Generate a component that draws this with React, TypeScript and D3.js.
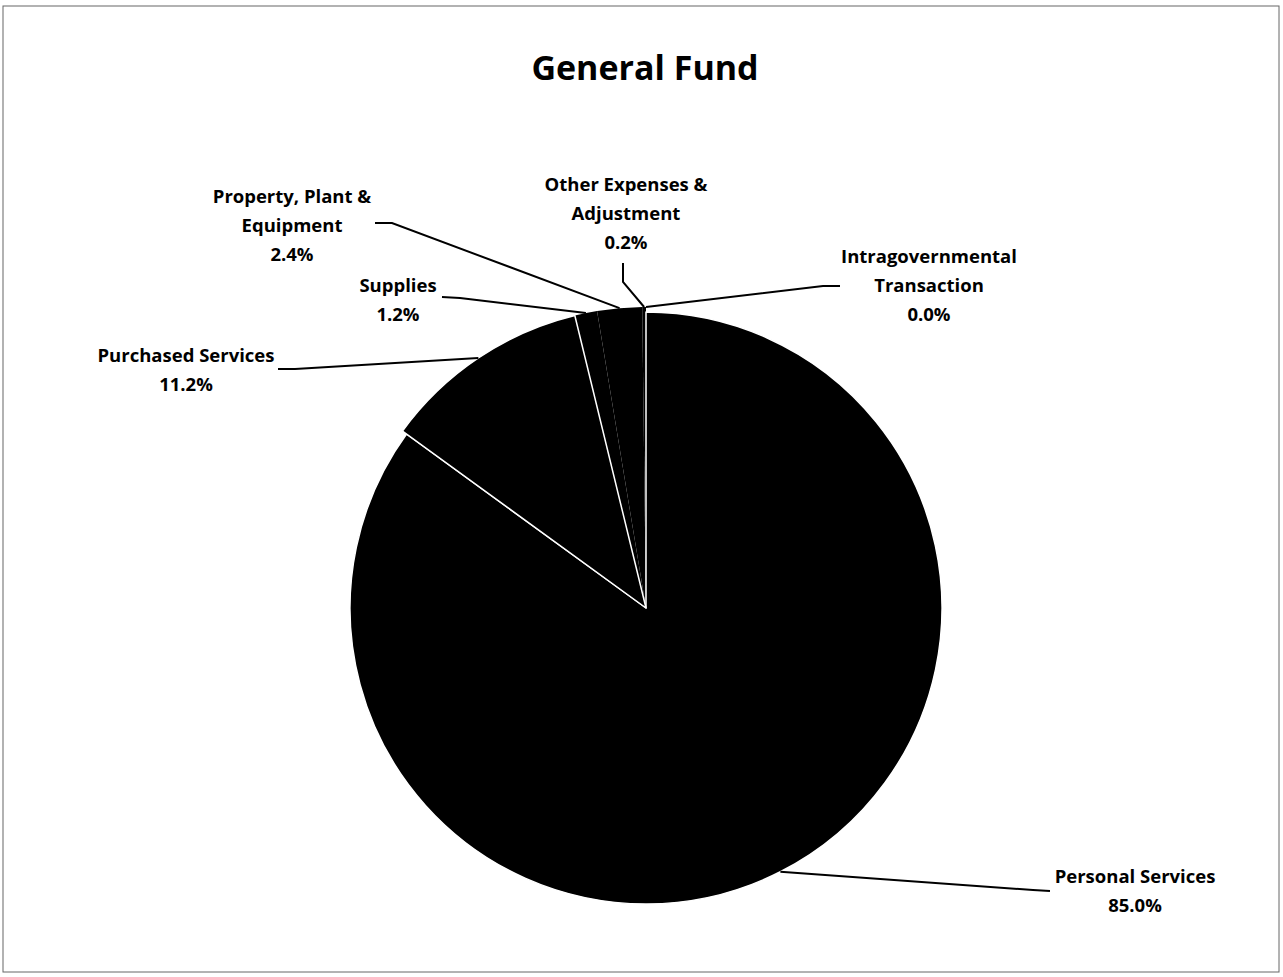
import React from "react"
import * as d3 from "d3"

const title = "General Fund"
const categories = [
  "Personal Services",
  "Purchased Services",
  "Supplies",
  "Property, Plant & Equipment",
  "Other Expenses & Adjustment",
  "Intragovernmental Transaction",
]
const values = [85.0, 11.2, 1.2, 2.4, 0.2, 0.0]
const labelLines = [
  ["Personal Services"],
  ["Purchased Services"],
  ["Supplies"],
  ["Property, Plant &", "Equipment"],
  ["Other Expenses &", "Adjustment"],
  ["Intragovernmental", "Transaction"],
]
// only these slices get a white outline in the original
const outlined = [true, true, false, false, false, false]

// where each data label sits and where its leader leaves it
const labelLayout = [
  { x: 1135, y: 883, sx: 1050, sy: 891, ex: 1033, ey: 890 },
  { x: 186, y: 362, sx: 278, sy: 369, ex: 295, ey: 369 },
  { x: 398, y: 292, sx: 442, sy: 297, ex: 460, ey: 298 },
  { x: 292, y: 203, sx: 375, sy: 223, ex: 392, ey: 223 },
  { x: 626, y: 191, sx: 623, sy: 263, ex: 623, ey: 282 },
  { x: 929, y: 263, sx: 840, sy: 286, ex: 823, ey: 286 },
]

const W = 1283
const H = 977
const cx = 646
const cy = 608
const R = 296
const lineH = 29
const font = "'Open Sans', sans-serif"

const App: React.FC = () => {
  const pie = d3
    .pie<number>()
    .sort(null)
    .value((d) => d)
    .startAngle(0)
    .endAngle(2 * Math.PI)
  const arcs = pie(values)

  const arcFor = (i: number) =>
    d3
      .arc<d3.PieArcDatum<number>>()
      .innerRadius(0)
      .outerRadius(i === 0 ? R : R + 5)

  const line = d3.line()
  // draw plain slices first, outlined ones on top
  const order = arcs.map((_, i) => i).sort((a, b) => Number(outlined[a]) - Number(outlined[b]))

  return (
    <svg
      width={W}
      height={H}
      style={{ position: "absolute", left: 0, top: 0, background: "#fff" }}
    >
      <rect x={3} y={6} width={1276} height={966} fill="#fff" stroke="#666" strokeWidth={1} />
      <text
        x={645}
        y={80}
        textAnchor="middle"
        fontFamily={font}
        fontWeight={700}
        fontSize={34}
        fill="#000"
      >
        {title}
      </text>
      <g transform={`translate(${cx},${cy})`}>
        {order.map((i) => (
          <path
            key={categories[i]}
            d={arcFor(i)(arcs[i]) || ""}
            fill="#000"
            stroke={outlined[i] ? "#fff" : "none"}
            strokeWidth={1.5}
            strokeLinejoin="round"
          />
        ))}
      </g>
      {arcs.map((a, i) => {
        const mid = (a.startAngle + a.endAngle) / 2
        const rr = i === 0 ? R : R + 5
        const px = cx + rr * Math.sin(mid)
        const py = cy - rr * Math.cos(mid)
        const L = labelLayout[i]
        return (
          <path
            key={"leader" + i}
            d={
              line([
                [L.sx, L.sy],
                [L.ex, L.ey],
                [px, py],
              ]) || ""
            }
            fill="none"
            stroke="#000"
            strokeWidth={2}
          />
        )
      })}
      {arcs.map((a, i) => {
        const L = labelLayout[i]
        const lines = [...labelLines[i], a.data.toFixed(1) + "%"]
        return (
          <text
            key={"label" + i}
            textAnchor="middle"
            fontFamily={font}
            fontWeight={700}
            fontSize={18.5}
            fill="#000"
          >
            {lines.map((t, k) => (
              <tspan key={k} x={L.x} y={L.y + k * lineH}>
                {t}
              </tspan>
            ))}
          </text>
        )
      })}
    </svg>
  )
}

export default App
